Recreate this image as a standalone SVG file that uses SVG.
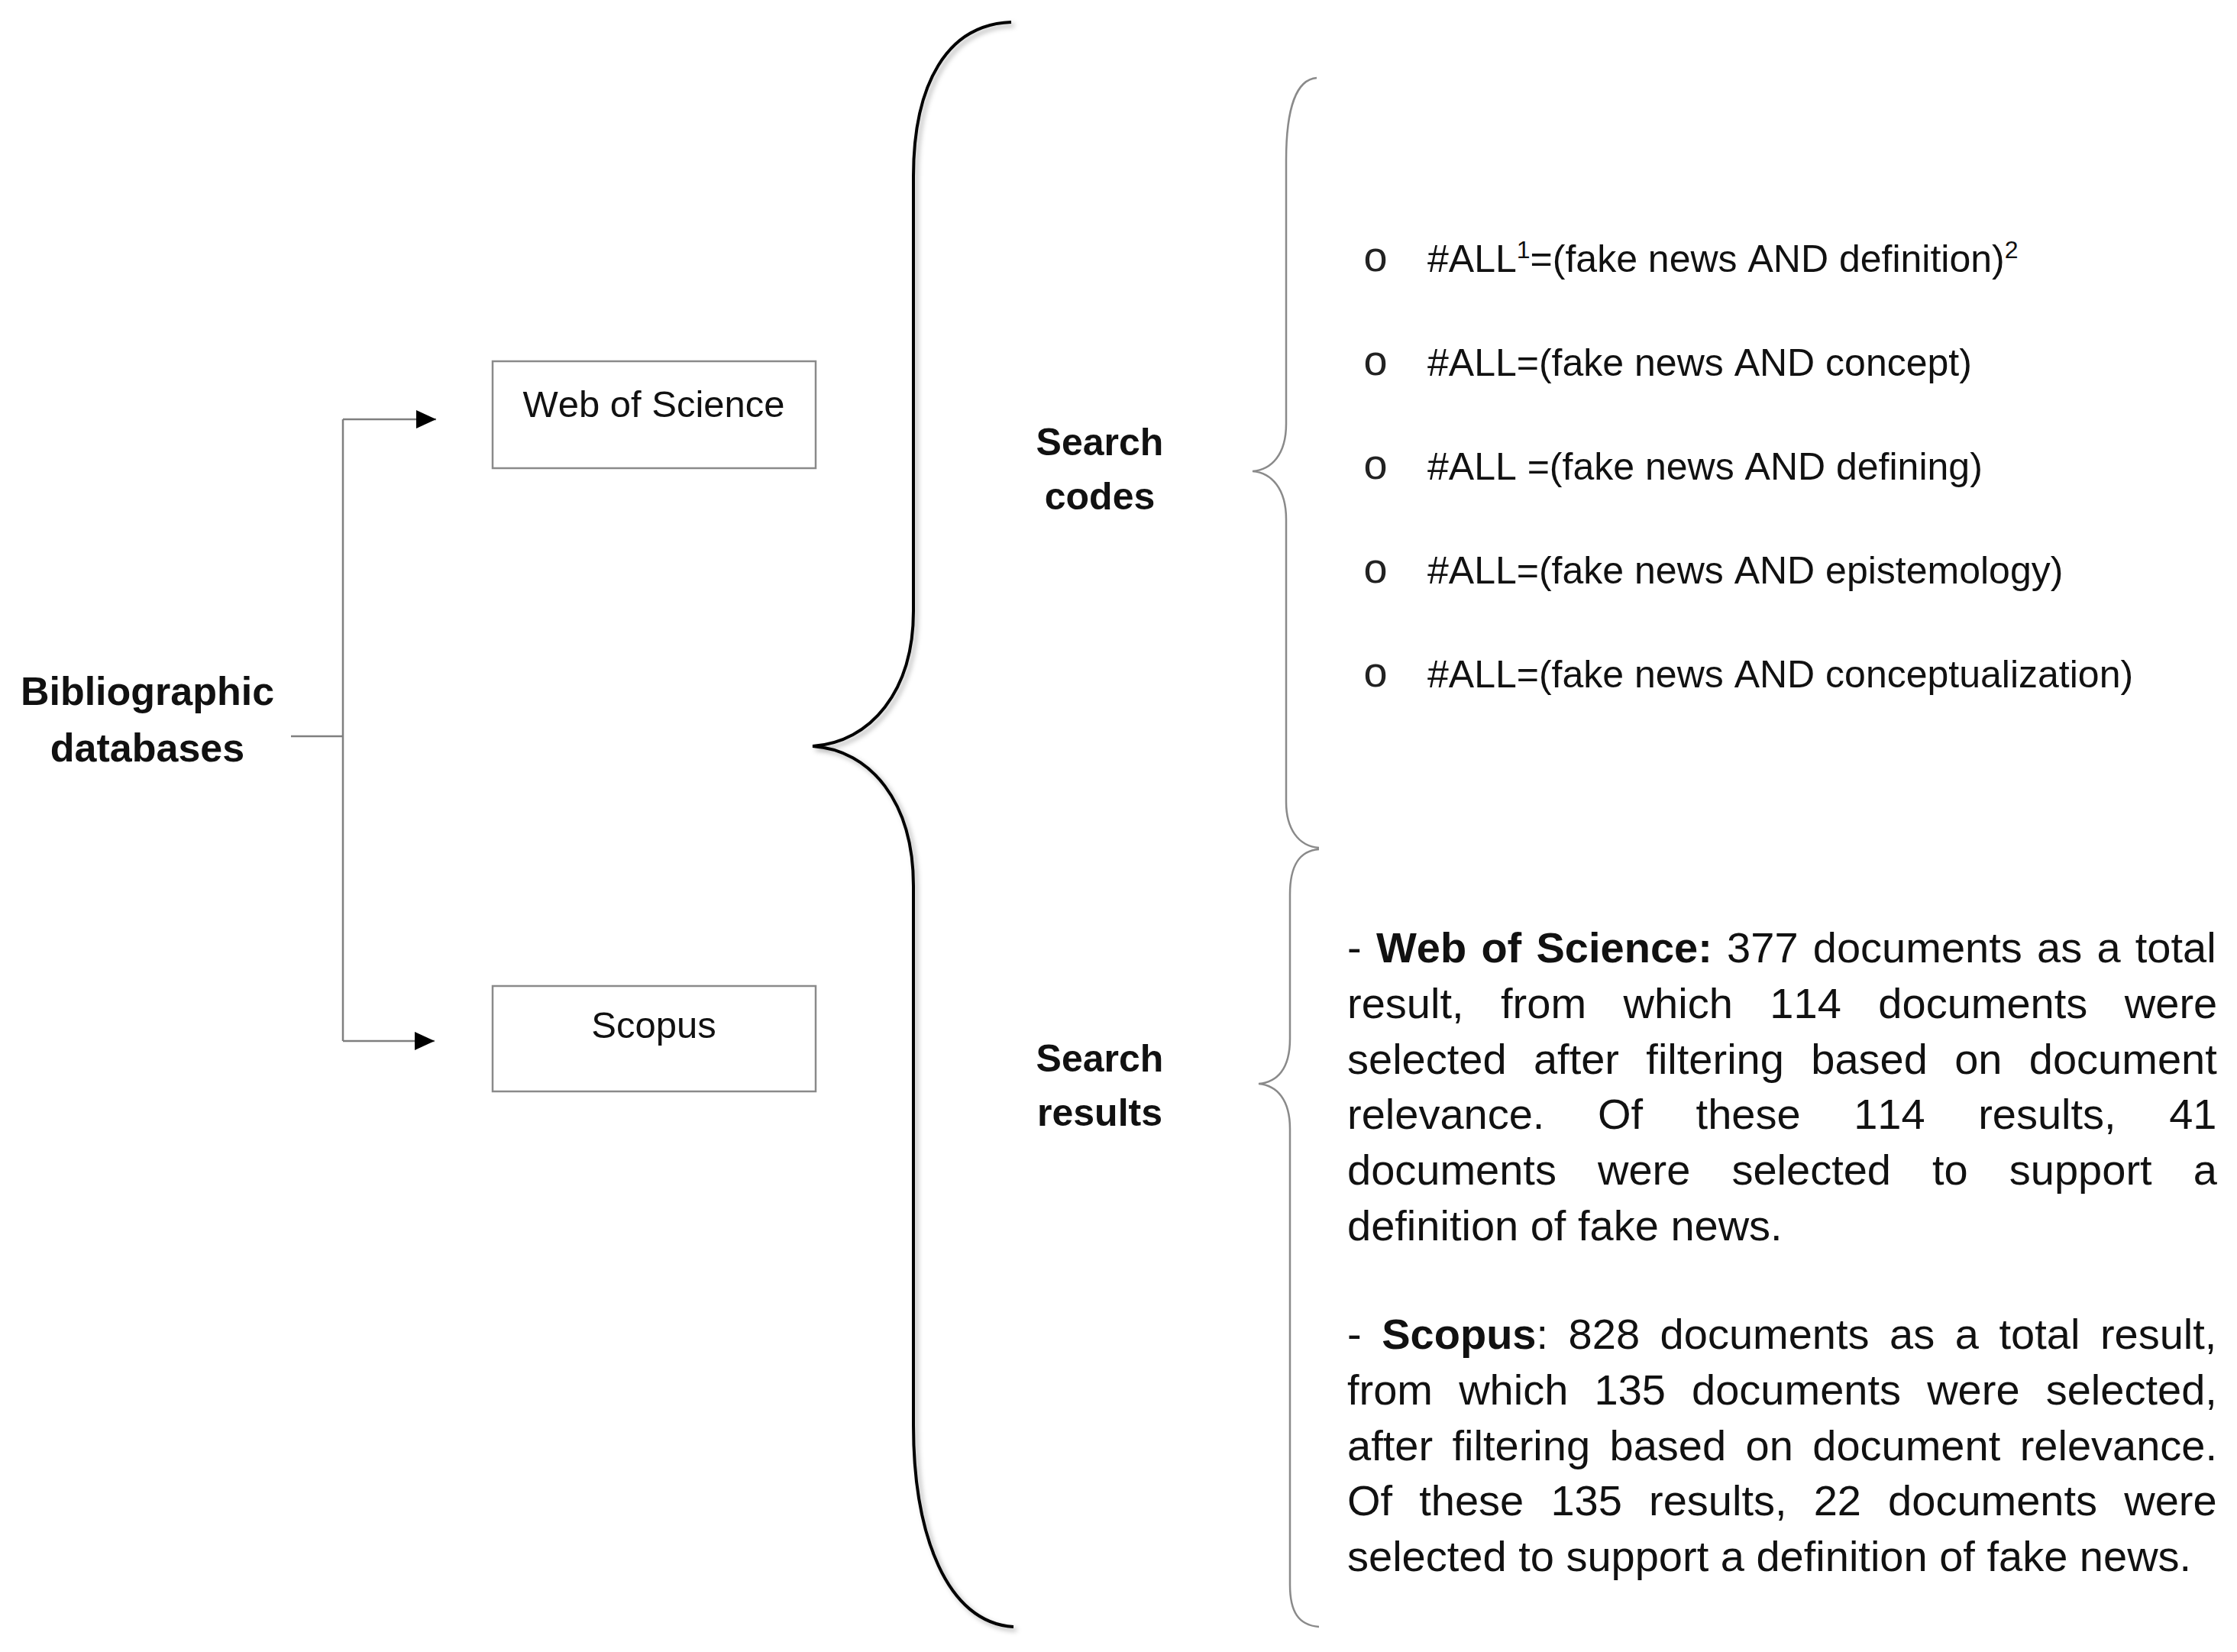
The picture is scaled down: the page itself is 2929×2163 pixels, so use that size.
<svg xmlns="http://www.w3.org/2000/svg" width="2929" height="2163" viewBox="0 0 2929 2163">
<style>
text{font-family:"Liberation Sans",Arial,sans-serif;fill:#111;font-kerning:none}
.lbl{font-weight:bold;font-size:50px;text-anchor:middle}
.box{fill:#fff;stroke:#8a8a8a;stroke-width:2.5}
.boxt{font-size:49px;text-anchor:middle}
.conn{fill:none;stroke:#7f7f7f;stroke-width:2.5}
.big{fill:none;stroke:#000;stroke-width:4}
.small{fill:none;stroke:#8a8a8a;stroke-width:2.5}
.code{font-size:50px}
.bul{font-family:"Liberation Mono","Courier New",monospace;font-size:56px;text-anchor:middle;fill:#222}
.para{font-size:56px}
</style>
<defs>
<marker id="arr" markerUnits="userSpaceOnUse" markerWidth="26" markerHeight="24" refX="26" refY="12" orient="auto">
<path d="M0,0 L26,12 L0,24 z" fill="#000"/>
</marker>
<filter id="shadow" x="-20%" y="-5%" width="140%" height="110%">
<feDropShadow dx="4" dy="4" stdDeviation="3" flood-color="#000" flood-opacity="0.3"/>
</filter>
</defs>
<rect width="2929" height="2163" fill="#fff"/>

<g id="connectors">
<path class="conn" d="M381,964 H449"/>
<path class="conn" d="M449,549 V1363"/>
<path class="conn" d="M449,549 H571" marker-end="url(#arr)"/>
<path class="conn" d="M449,1363 H569" marker-end="url(#arr)"/>
</g>

<g id="braces">
<path class="big" filter="url(#shadow)" d="M1324,29 C1240,32 1196,110 1196,231 L1196,800 C1196,905 1140,972 1064,977 C1140,982 1196,1050 1196,1160 L1196,1866 C1196,2010 1240,2125 1327,2130"/>
<path class="small" d="M1724,102 C1698,104 1684,140 1684,210 L1684,555 C1684,595 1665,615 1640,617 C1665,619 1684,640 1684,680 L1684,1050 C1684,1085 1700,1108 1727,1110"/>
<path class="small" d="M1727,1112 C1700,1114 1689,1135 1689,1171 L1689,1360 C1689,1400 1672,1417 1648,1419 C1672,1421 1689,1440 1689,1478 L1689,2075 C1689,2110 1700,2128 1727,2130"/>
</g>

<g id="bibliographic">
<text class="lbl" x="193" y="923" style="font-size:52px">Bibliographic</text>
<text class="lbl" x="193" y="997" style="font-size:52px">databases</text>
</g>

<g id="web-of-science">
<rect class="box" x="645" y="473" width="423" height="140"/>
<text class="boxt" x="856" y="546">Web of Science</text>
</g>

<g id="scopus">
<rect class="box" x="645" y="1291" width="423" height="138"/>
<text class="boxt" x="856" y="1359">Scopus</text>
</g>

<g id="search-codes">
<text class="lbl" x="1440" y="596">Search</text>
<text class="lbl" x="1440" y="667">codes</text>
</g>

<g id="search-results">
<text class="lbl" x="1440" y="1403">Search</text>
<text class="lbl" x="1440" y="1474">results</text>
</g>

<g id="code-list">
<text class="bul" x="1801" y="355">o</text>
<text class="code" x="1869" y="356">#ALL<tspan font-size="32" dy="-18">1</tspan><tspan dy="18">=(fake news AND definition)</tspan><tspan font-size="32" dy="-18">2</tspan></text>
<text class="bul" x="1801" y="491">o</text>
<text class="code" x="1869" y="492">#ALL=(fake news AND concept)</text>
<text class="bul" x="1801" y="627">o</text>
<text class="code" x="1869" y="628">#ALL =(fake news AND defining)</text>
<text class="bul" x="1801" y="763">o</text>
<text class="code" x="1869" y="764">#ALL=(fake news AND epistemology)</text>
<text class="bul" x="1801" y="899">o</text>
<text class="code" x="1869" y="900">#ALL=(fake news AND conceptualization)</text>
</g>

<g id="results-text">
<text class="para" x="1764" y="1260" style="word-spacing:3.7px">- <tspan font-weight="bold">Web of Science:</tspan> 377 documents as a total</text>
<text class="para" x="1764" y="1333" style="word-spacing:33px">result, from which 114 documents were</text>
<text class="para" x="1764" y="1406" style="word-spacing:19.8px">selected after filtering based on document</text>
<text class="para" x="1764" y="1478" style="word-spacing:54px">relevance. Of these 114 results, 41</text>
<text class="para" x="1764" y="1551" style="word-spacing:38.5px">documents were selected to support a</text>
<text class="para" x="1764" y="1624">definition of fake news.</text>
<text class="para" x="1764" y="1766" style="word-spacing:11px">- <tspan font-weight="bold">Scopus</tspan>: 828 documents as a total result,</text>
<text class="para" x="1764" y="1839" style="word-spacing:18.6px">from which 135 documents were selected,</text>
<text class="para" x="1764" y="1912" style="word-spacing:9.9px">after filtering based on document relevance.</text>
<text class="para" x="1764" y="1984" style="word-spacing:19.6px">Of these 135 results, 22 documents were</text>
<text class="para" x="1764" y="2057">selected to support a definition of fake news.</text>
</g>
</svg>
